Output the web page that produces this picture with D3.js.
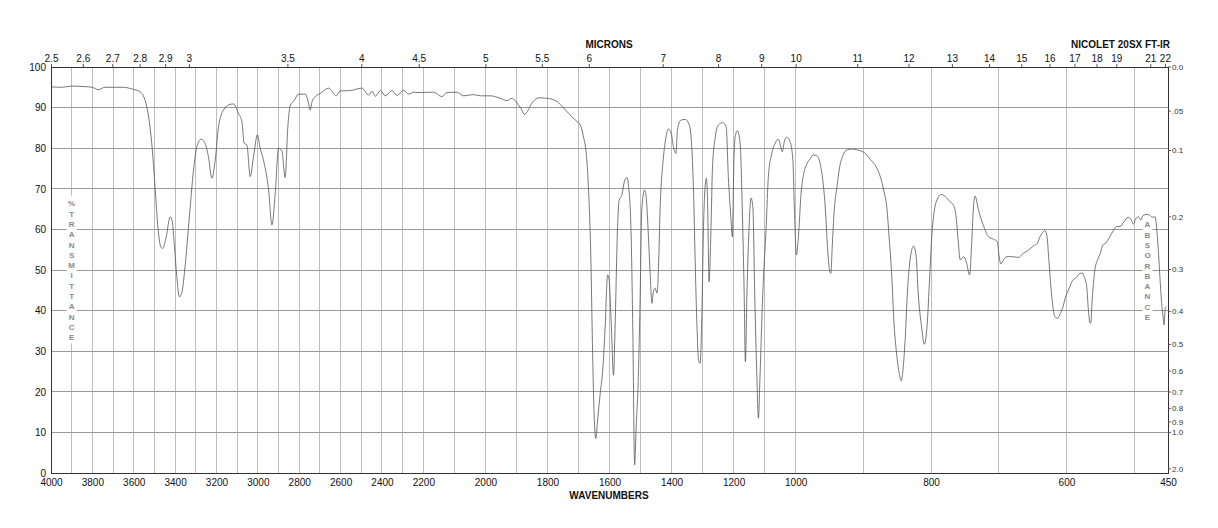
<!DOCTYPE html>
<html>
<head>
<meta charset="utf-8">
<script src="https://cdn.jsdelivr.net/npm/d3@7"></script>
<style>
  html, body { margin: 0; padding: 0; background: #fff; }
  svg { display: block; font-family: "Liberation Sans", Arial, Helvetica, sans-serif; }
</style>
</head>
<body>
<svg id="chart" width="1218" height="528"></svg>
<script>
// ---------------- DATA ----------------
const wavenumbers = [
  4000, 3950, 3900, 3850, 3800, 3771, 3740, 3700, 3650, 3602, 3569, 3537, 3513, 3497, 3486, 3469, 3460, 3443, 3424, 3416,
  3403, 3392, 3379, 3368, 3352, 3331, 3311, 3295, 3274, 3255, 3239, 3222, 3206, 3190, 3166, 3134, 3118, 3094, 3077, 3066,
  3053, 3037, 3021, 3002, 2989, 2973, 2948, 2932, 2916, 2900, 2884, 2868, 2855, 2843, 2828, 2803, 2771, 2755, 2747, 2738,
  2723, 2698, 2658, 2621, 2602, 2553, 2497, 2465, 2448, 2432, 2408, 2384, 2351, 2327, 2295, 2271, 2247, 2230, 2167, 2140,
  2124, 2091, 2070, 2038, 2016, 1984, 1952, 1930, 1914, 1904, 1893, 1882, 1875, 1865, 1850, 1829, 1802, 1769, 1759, 1737,
  1710, 1694, 1684, 1675, 1668, 1660, 1655, 1649, 1644, 1639, 1630, 1621, 1614, 1606, 1601, 1594, 1587, 1582, 1574, 1569,
  1560, 1552, 1544, 1539, 1531, 1525, 1519, 1514, 1507, 1501, 1496, 1487, 1482, 1474, 1469, 1463, 1458, 1453, 1447, 1442,
  1437, 1428, 1421, 1410, 1401, 1394, 1386, 1381, 1370, 1356, 1342, 1335, 1329, 1324, 1318, 1313, 1308, 1302, 1297, 1292,
  1288, 1284, 1279, 1273, 1268, 1259, 1249, 1235, 1224, 1217, 1209, 1204, 1199, 1195, 1188, 1179, 1172, 1166, 1162, 1157,
  1150, 1144, 1138, 1132, 1125, 1120, 1115, 1106, 1095, 1088, 1077, 1066, 1056, 1050, 1043, 1037, 1029, 1018, 1009, 1004,
  999, 996, 992, 988, 983, 979, 974, 969, 964, 960, 956, 953, 950, 948, 946, 943, 939, 935, 930, 924,
  917, 910, 905, 897, 890, 881, 875, 870, 865, 862, 858, 855, 851, 847, 844, 842, 838, 835, 831, 828,
  826, 822, 819, 814, 810, 806, 802, 799, 795, 790, 785, 779, 772, 767, 763, 760, 757, 752, 748, 743,
  740, 737, 735, 730, 723, 715, 708, 702, 700, 697, 693, 688, 681, 671, 664, 656, 649, 643, 639, 636,
  632, 629, 626, 623, 620, 617, 613, 609, 605, 602, 597, 591, 585, 580, 576, 574, 570, 568, 565, 564,
  562, 558, 554, 550, 546, 542, 536, 530, 526, 521, 515, 509, 504, 501, 498, 494, 490, 487, 481, 477,
  473, 469, 467, 464, 462, 459, 457, 456, 454, 452
];
const transmittance = [
  95.1, 95.0, 95.3, 95.2, 95.0, 94.4, 95.0, 95.0, 95.0, 94.5, 93.9, 90.2, 81.2, 70.5, 62.3, 55.7, 55.3, 58.2, 63.1, 62.5,
  55.7, 48.4, 43.4, 44.3, 50.8, 63.1, 74.6, 80.4, 82.2, 81.2, 77.9, 72.6, 77.1, 85.3, 89.4, 90.8, 90.9, 88.6, 86.5, 81.2,
  80.8, 73.0, 77.9, 83.3, 80.0, 77.1, 69.7, 61.1, 68.9, 80.0, 79.4, 72.8, 85.3, 90.6, 91.5, 93.3, 93.3, 91.1, 89.4, 91.5,
  92.7, 93.5, 94.8, 92.9, 94.1, 94.2, 94.8, 93.1, 94.0, 92.8, 94.2, 92.9, 94.2, 93.0, 94.3, 93.3, 93.8, 93.7, 93.8, 92.7,
  93.7, 93.8, 92.9, 93.2, 92.9, 92.9, 92.3, 91.7, 92.3, 91.7, 90.6, 89.4, 88.3, 89.0, 91.1, 92.4, 92.3, 91.5, 90.8, 89.0,
  86.9, 85.7, 82.8, 78.7, 70.5, 52.5, 31.9, 13.1, 8.5, 12.5, 19.6, 26.2, 36.0, 48.8, 47.5, 36.0, 24.1, 36.0, 60.7, 67.2,
  68.5, 71.8, 72.8, 70.9, 60.7, 36.0, 2.0, 11.4, 23.7, 44.3, 64.8, 69.7, 68.1, 57.4, 49.2, 41.8, 45.0, 45.5, 44.3, 50.8,
  64.8, 76.3, 81.2, 84.7, 83.7, 80.4, 78.7, 84.5, 86.9, 87.1, 85.5, 80.4, 68.9, 52.5, 36.0, 27.8, 27.0, 40.1, 60.7, 70.5,
  72.6, 67.2, 47.1, 60.0, 75.4, 82.8, 85.7, 86.3, 85.3, 73.0, 63.1, 58.2, 77.1, 82.8, 84.3, 81.2, 64.8, 44.3, 27.4, 44.3,
  60.7, 67.7, 65.6, 44.3, 23.7, 13.5, 23.7, 44.3, 60.7, 73.0, 78.7, 81.2, 82.2, 81.0, 79.1, 81.5, 82.7, 81.6, 77.1, 64.8,
  53.7, 58.0, 68.9, 73.8, 76.3, 77.3, 78.3, 78.2, 76.3, 72.2, 64.8, 55.7, 50.0, 49.2, 55.7, 64.8, 70.5, 75.4, 78.3, 79.6,
  79.8, 79.6, 79.4, 78.7, 77.3, 75.4, 73.0, 69.7, 64.8, 58.2, 48.4, 37.7, 29.5, 24.6, 22.7, 24.6, 33.6, 44.3, 52.5, 55.3,
  55.9, 53.3, 44.3, 36.0, 31.7, 36.0, 48.4, 58.2, 64.8, 67.7, 68.6, 68.1, 66.8, 66.0, 63.1, 57.4, 52.5, 53.3, 52.0, 48.8,
  56.6, 66.4, 68.2, 64.8, 61.1, 58.2, 57.6, 57.0, 54.1, 51.5, 52.5, 53.3, 53.3, 53.1, 54.1, 54.9, 55.9, 56.6, 58.2, 59.0,
  59.7, 58.6, 52.5, 45.9, 41.0, 38.5, 38.1, 39.3, 41.0, 43.0, 45.1, 47.4, 48.2, 49.2, 49.2, 48.4, 45.9, 41.0, 36.9, 37.0,
  42.6, 50.0, 52.5, 54.1, 56.2, 56.6, 58.2, 59.9, 60.7, 60.7, 61.9, 63.0, 62.3, 61.3, 62.5, 63.1, 62.3, 63.4, 63.7, 63.5,
  63.0, 63.1, 60.7, 54.1, 48.4, 41.0, 38.1, 36.5, 40.6, 41.0
];
const wavenumberTicks = [4000, 3800, 3600, 3400, 3200, 3000, 2800, 2600, 2400, 2200, 2000, 1800, 1600, 1400, 1200, 1000, 800, 600, 450];
const gridWavenumbers = d3.range(3900, 499, -100);
const micronTicks = [2.5, 2.6, 2.7, 2.8, 2.9, 3, 3.5, 4, 4.5, 5, 5.5, 6, 7, 8, 9, 10, 11, 12, 13, 14, 15, 16, 17, 18, 19, 21, 22];
const transmittanceTicks = [0, 10, 20, 30, 40, 50, 60, 70, 80, 90, 100];
const absorbanceTicks = [0.0, 0.05, 0.1, 0.2, 0.3, 0.4, 0.5, 0.6, 0.7, 0.8, 0.9, 1.0, 2.0];
const absorbanceLabels = ["0.0", ".05", "0.1", "0.2", "0.3", "0.4", "0.5", "0.6", "0.7", "0.8", "0.9", "1.0", "2.0"];
const leftTitle = "%TRANSMITTANCE";
const rightTitle = "ABSORBANCE";

// ---------------- LAYOUT ----------------
const L = 51, R = 1168, T = 67, B = 473;
const seg = (R - L) / 3;
const x = d3.scaleLinear().domain([4000, 2200, 1000, 450]).range([L, L + seg, L + 2 * seg, R]);
const y = d3.scaleLinear().domain([0, 100]).range([B, T]);

const svg = d3.select("#chart");

// grid
const grid = svg.append("g");
grid.selectAll("line.v").data(gridWavenumbers).join("line")
  .attr("x1", d => x(d)).attr("x2", d => x(d)).attr("y1", T).attr("y2", B)
  .attr("stroke", "#bdbdbd").attr("stroke-width", 1).attr("shape-rendering", "crispEdges");
grid.selectAll("line.h").data(transmittanceTicks.filter(d => d > 0 && d < 100)).join("line")
  .attr("x1", L).attr("x2", R).attr("y1", d => y(d)).attr("y2", d => y(d))
  .attr("stroke", "#9a9a9a").attr("stroke-width", 1).attr("shape-rendering", "crispEdges");

// white boxes behind vertical titles
const titleStep = 10.3;
const leftX = x(3900), leftY0 = 203.5;
const rightX = 1147.5, rightY0 = 224.5;
svg.append("rect").attr("x", leftX - 5).attr("y", leftY0 - 8).attr("width", 10)
  .attr("height", (leftTitle.length - 1) * titleStep + 14).attr("fill", "#fff");
svg.append("rect").attr("x", rightX - 5).attr("y", rightY0 - 8).attr("width", 10)
  .attr("height", (rightTitle.length - 1) * titleStep + 14).attr("fill", "#fff");

svg.append("g").selectAll("text").data(leftTitle.split("")).join("text")
  .attr("x", leftX).attr("y", (d, i) => leftY0 + i * titleStep).attr("dy", "0.35em")
  .attr("text-anchor", "middle").attr("font-size", 8).attr("font-weight", "bold").attr("fill", "#8a8a8a")
  .text(d => d);
svg.append("g").selectAll("text").data(rightTitle.split("")).join("text")
  .attr("x", rightX).attr("y", (d, i) => rightY0 + i * titleStep).attr("dy", "0.35em")
  .attr("text-anchor", "middle").attr("font-size", 8).attr("font-weight", "bold").attr("fill", "#8a8a8a")
  .text(d => d);

// spectrum
const pts = wavenumbers.map((w, i) => [w, transmittance[i]]);
svg.append("path").datum(pts)
  .attr("fill", "none").attr("stroke", "#555").attr("stroke-width", 0.8)
  .attr("d", d3.line().x(d => x(d[0])).y(d => y(d[1])).curve(d3.curveMonotoneX));

// frame
svg.append("rect").attr("x", L).attr("y", T).attr("width", R - L).attr("height", B - T)
  .attr("fill", "none").attr("stroke", "#333").attr("stroke-width", 1).attr("shape-rendering", "crispEdges");

// bottom axis
const bottomAxis = d3.axisBottom(x).tickValues(wavenumberTicks).tickSize(0).tickPadding(6).tickFormat(d3.format("d"));
const gb = svg.append("g").attr("transform", `translate(0,${B})`).call(bottomAxis);
gb.select(".domain").remove();
gb.selectAll("text").attr("font-size", 10).attr("fill", "#111").style("font-family", "Liberation Sans, Arial, sans-serif");

// left axis
const leftAxis = d3.axisLeft(y).tickValues(transmittanceTicks).tickSize(0).tickPadding(5);
const gl = svg.append("g").attr("transform", `translate(${L},0)`).call(leftAxis);
gl.select(".domain").remove();
gl.selectAll("text").attr("font-size", 10).attr("fill", "#111").style("font-family", "Liberation Sans, Arial, sans-serif");

// top micron axis
const topAxis = d3.axisTop(x).tickValues(micronTicks.map(m => 10000 / m)).tickSize(3).tickPadding(2)
  .tickFormat((d, i) => String(micronTicks[i]));
const gt = svg.append("g").attr("transform", `translate(0,${T})`).call(topAxis);
gt.select(".domain").remove();
gt.selectAll("line").attr("stroke", "#555");
gt.selectAll("text").attr("font-size", 10).attr("fill", "#111").style("font-family", "Liberation Sans, Arial, sans-serif");

// right absorbance axis
const absY = a => y(100 * Math.pow(10, -a));
const gr = svg.append("g");
gr.selectAll("line").data(absorbanceTicks).join("line")
  .attr("x1", R).attr("x2", R + 3).attr("y1", d => absY(d)).attr("y2", d => absY(d))
  .attr("stroke", "#555");
gr.selectAll("text").data(absorbanceTicks).join("text")
  .attr("x", R + 4).attr("y", d => absY(d)).attr("dy", "0.35em")
  .attr("font-size", 8).attr("fill", "#333").text((d, i) => absorbanceLabels[i]);

// titles
svg.append("text").attr("x", 609).attr("y", 48).attr("text-anchor", "middle")
  .attr("font-size", 10).attr("font-weight", "bold").attr("fill", "#111").text("MICRONS");
svg.append("text").attr("x", 1170).attr("y", 48).attr("text-anchor", "end")
  .attr("font-size", 10).attr("font-weight", "bold").attr("fill", "#111").text("NICOLET 20SX FT-IR");
svg.append("text").attr("x", 609).attr("y", 499).attr("text-anchor", "middle")
  .attr("font-size", 10).attr("font-weight", "bold").attr("fill", "#111").text("WAVENUMBERS");
</script>
</body>
</html>
